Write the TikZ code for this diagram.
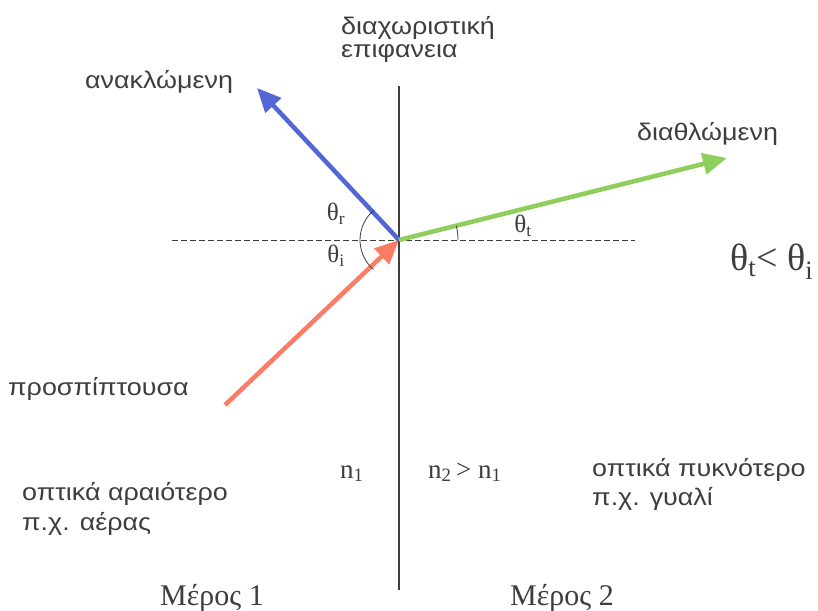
\documentclass[tikz,border=0pt]{standalone}
\usepackage{fontspec}
\setmainfont{Liberation Serif}
\newfontfamily\grsans{Liberation Sans}[FakeStretch=1.12]
\usetikzlibrary{arrows.meta}
\definecolor{rfBlue}{RGB}{82,102,214}
\definecolor{rfRed}{RGB}{250,124,100}
\definecolor{rfGreen}{RGB}{142,206,92}
\definecolor{rfInk}{RGB}{62,62,62}

\begin{document}
\begin{tikzpicture}[x=1pt, y=-1pt, >={Triangle[length=24pt,width=21pt]},
  ray/.style={line width=4.5pt, ->},
  txt/.style={anchor=base west, inner sep=0pt, text=rfInk, font=\grsans\fontsize{24}{27}\selectfont},
  sym/.style={anchor=base west, inner sep=0pt, text=rfInk, font=\fontsize{27}{30}\selectfont},
  ang/.style={inner sep=0pt, text=rfInk, font=\fontsize{25}{27}\selectfont}]
  \useasboundingbox (0,0) rectangle (818,610);
  \fill[white] (0,0) rectangle (818,610);
  % interface and normal
  \coordinate (top) at (399,86);
  \coordinate (bot) at (399,590);
  \coordinate (nl) at (172,240);
  \coordinate (nr) at (635,240);
  \coordinate (O) at (399,240);
  \draw[rfInk, line width=1.2pt] (top) -- (bot);
  \draw[rfInk, dash pattern=on 6pt off 3pt] (nl) -- (nr);
  % rays
  \coordinate (inc) at (225,405);
  \coordinate (refl) at (257,88);
  \coordinate (refr) at (727,158);
  \draw[ray, rfRed] (inc) -- (O);
  \draw[ray, rfBlue] (O) -- (refl);
  \draw[ray, rfGreen] (O) -- (refr);
  % angles
  \draw[rfInk, thick] (O) ++(-131:39) arc[start angle=-131, end angle=-229, radius=39];
  \draw[rfInk, thick] (O) ++(0:59) arc[start angle=0, end angle=-14, radius=59];
  \node[ang] (thr) at (336,214) {θ\textsubscript{r}};
  \node[ang] (thi) at (336,256) {θ\textsubscript{i}};
  \node[ang] (tht) at (523,226) {θ\textsubscript{t}};
  % labels
  \node[txt] (surf1) at (341,35) {διαχωριστική};
  \node[txt] (surf2) at (341,58) {επιφανεια};
  \node[txt] (refltxt) at (85,88) {ανακλώμενη};
  \node[txt] (refrtxt) at (637,140) {διαθλώμενη};
  \node[txt] (inctxt) at (8,395) {προσπίπτουσα};
  \node[txt] (rare1) at (22,500) {οπτικά αραιότερο};
  \node[txt] (rare2) at (22,530) {π.χ. αέρας};
  \node[txt] (dense1) at (592,476) {οπτικά πυκνότερο};
  \node[txt] (dense2) at (592,505) {π.χ. γυαλί};
  \node[sym] (n1) at (340,478) {n\textsubscript{1}};
  \node[sym] (n2) at (428,478) {n\textsubscript{2}\,> n\textsubscript{1}};
  \node[sym, font=\fontsize{30}{32}\selectfont] (part1) at (160,605) {Μέρος 1};
  \node[sym, font=\fontsize{30}{32}\selectfont] (part2) at (510,605) {Μέρος 2};
  \node[sym, font=\fontsize{38}{40}\selectfont] (cmp) at (730,270) {θ\textsubscript{t}< θ\textsubscript{i}};
\end{tikzpicture}
\end{document}
